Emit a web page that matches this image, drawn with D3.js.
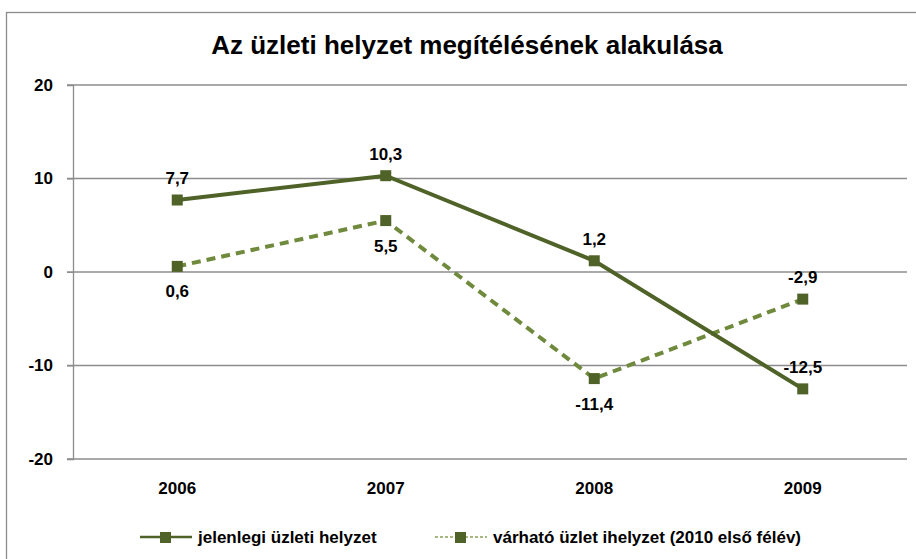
<!DOCTYPE html>
<html>
<head>
<meta charset="utf-8">
<script src="https://cdn.jsdelivr.net/npm/d3@7"></script>
<style>
body { margin: 0; background: #fff; }
text { font-family: "Liberation Sans", Arial, sans-serif; font-weight: bold; fill: #000; }
</style>
</head>
<body>
<svg id="chart" width="916" height="559"></svg>
<script>
// data
var years = ["2006", "2007", "2008", "2009"];
var jelenlegi = [7.7, 10.3, 1.2, -12.5];
var varhato = [0.6, 5.5, -11.4, -2.9];
var yTicks = [-20, -10, 0, 10, 20];
var seriesNames = ["jelenlegi üzleti helyzet", "várható üzlet ihelyzet (2010 első félév)"];

var margin = {top: 85, right: 9, bottom: 100, left: 73},
width = 916 - margin.left - margin.right,
height = 559 - margin.top - margin.bottom;

var root = d3.select("#chart");

// outer frame
root.append("rect")
  .attr("x", 6.5).attr("y", 12.5)
  .attr("width", 940).attr("height", 600)
  .attr("fill", "none")
  .attr("stroke", "#8c8c8c")
  .attr("stroke-width", 1.3);

root.append("text")
  .attr("x", 467).attr("y", 54)
  .attr("text-anchor", "middle")
  .style("font-size", "26px")
  .text("Az üzleti helyzet megítélésének alakulása");

var svg = root.append("g")
  .attr("transform", "translate(" + margin.left + "," + margin.top + ")");

var x = d3.scaleBand()
  .domain(years)
  .range([0, width]);

var y = d3.scaleLinear()
  .domain([-20, 20])
  .range([height, 0]);

// grid lines
svg.selectAll(".grid")
  .data(yTicks)
  .enter()
  .append("line")
  .attr("x1", -6)
  .attr("x2", width)
  .attr("y1", function(d) { return y(d); })
  .attr("y2", function(d) { return y(d); })
  .attr("stroke", "#8c8c8c")
  .attr("stroke-width", 1.3);

// y axis
var yAxis = svg.append("g")
  .call(d3.axisLeft(y).tickValues(yTicks).tickSize(6).tickPadding(14)
    .tickFormat(function(d) { return String(d); }));
yAxis.select(".domain").attr("stroke", "#8c8c8c").attr("stroke-width", 1.3);
yAxis.selectAll(".tick line").attr("stroke", "#8c8c8c");
yAxis.selectAll("text").style("font-size", "17px").style("font-family", "Liberation Sans, Arial").style("font-weight", "bold").attr("fill", "#000");

// x axis labels
var xAxis = svg.append("g")
  .attr("transform", "translate(0," + height + ")")
  .call(d3.axisBottom(x).tickSize(0).tickPadding(23));
xAxis.select(".domain").remove();
xAxis.selectAll("text").style("font-size", "17px").style("font-family", "Liberation Sans, Arial").style("font-weight", "bold").attr("fill", "#000");

var line = d3.line()
  .x(function(d, i) { return x(years[i]) + x.bandwidth() / 2; })
  .y(function(d) { return y(d); });

// dashed series
svg.append("path")
  .datum(varhato)
  .attr("d", line)
  .attr("fill", "none")
  .attr("stroke", "#6f8a3c")
  .attr("stroke-width", 4)
  .attr("stroke-dasharray", "9,6");

// solid series
svg.append("path")
  .datum(jelenlegi)
  .attr("d", line)
  .attr("fill", "none")
  .attr("stroke", "#4f6228")
  .attr("stroke-width", 4);

function markers(data, cls) {
  svg.selectAll("." + cls)
    .data(data)
    .enter()
    .append("rect")
    .attr("x", function(d, i) { return x(years[i]) + x.bandwidth() / 2 - 5.5; })
    .attr("y", function(d) { return y(d) - 5.5; })
    .attr("width", 11)
    .attr("height", 11)
    .attr("fill", "#4f6228");
}
markers(varhato, "m2");
markers(jelenlegi, "m1");

function fmt(v) { return String(v).replace(".", ","); }

// labels: solid series above, dashed series below except last
svg.selectAll(".l1")
  .data(jelenlegi)
  .enter()
  .append("text")
  .attr("x", function(d, i) { return x(years[i]) + x.bandwidth() / 2; })
  .attr("y", function(d) { return y(d) - 16; })
  .attr("text-anchor", "middle")
  .style("font-size", "17px")
  .text(function(d) { return fmt(d); });

svg.selectAll(".l2")
  .data(varhato)
  .enter()
  .append("text")
  .attr("x", function(d, i) { return x(years[i]) + x.bandwidth() / 2; })
  .attr("y", function(d, i) { return i == 3 ? y(d) - 16 : y(d) + 31; })
  .attr("text-anchor", "middle")
  .style("font-size", "17px")
  .text(function(d) { return fmt(d); });

// legend
var legend = root.append("g").attr("transform", "translate(0,537)");
var lx = [140, 435];
lx.forEach(function(px, i) {
  var g = legend.append("g").attr("transform", "translate(" + px + ",0)");
  g.append("line")
    .attr("x1", 0).attr("x2", 52).attr("y1", 0).attr("y2", 0)
    .attr("stroke", i == 0 ? "#4f6228" : "#8aa05a")
    .attr("stroke-width", i == 0 ? 2.5 : 1.5)
    .attr("stroke-dasharray", i == 0 ? null : "3,2");
  g.append("rect")
    .attr("x", 20).attr("y", -5).attr("width", 11).attr("height", 11)
    .attr("fill", "#4f6228");
  g.append("text")
    .attr("x", 58).attr("y", 6)
    .style("font-size", "17px")
    .text(seriesNames[i]);
});
</script>
</body>
</html>
